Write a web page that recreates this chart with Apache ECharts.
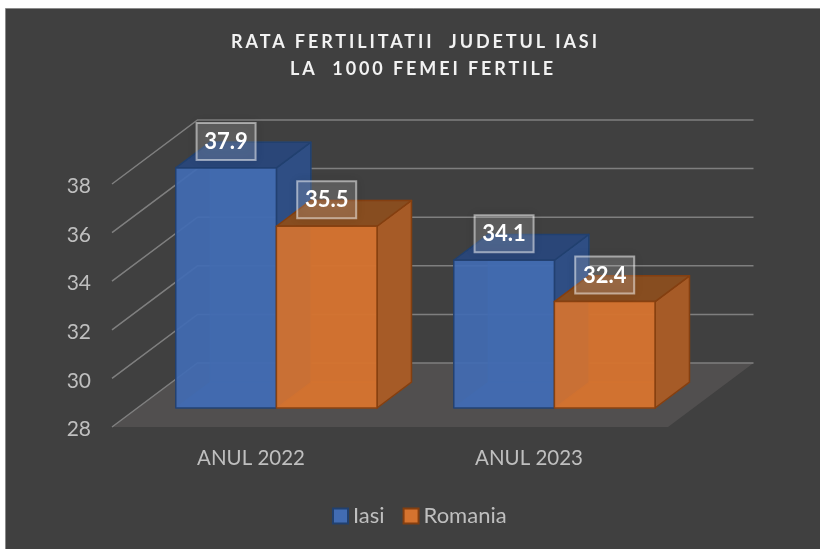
<!DOCTYPE html>
<html>
<head>
<meta charset="utf-8">
<style>html,body{margin:0;padding:0;background:#fff}#main{width:820px;height:549px}</style>
<script src="https://cdn.jsdelivr.net/npm/echarts@6/dist/echarts.min.js"></script>
</head>
<body>
<div id="main"></div>
<script>
var titleLines = ['RATA FERTILITATII  JUDETUL IASI', 'LA  1000 FEMEI FERTILE'];
var categories = ['ANUL 2022', 'ANUL 2023'];
var iasiValues = [37.9, 34.1];
var romaniaValues = [35.5, 32.4];
var gridValues = [28, 30, 32, 34, 36, 38];

// Title letter spacing: canvas text spacing applied only to the title lines
var origFill = CanvasRenderingContext2D.prototype.fillText;
CanvasRenderingContext2D.prototype.fillText = function (t) {
  var on = titleLines.indexOf(t) >= 0;
  this.letterSpacing = on ? '2.9px' : '0px';
  var r = origFill.apply(this, arguments);
  this.letterSpacing = '0px';
  return r;
};

var FONT = 'Lato, "Open Sans", sans-serif';
var DEPTH = [85.5, -64];      // floor depth in pixels
var BAR_NEAR = 0.297, BAR_FAR = 0.70; // bar position along the depth
var BAR_RATIO = 0.362;        // bar width / category band

function poly(points, fill, stroke, lw, opacity) {
  return { type: 'polygon', shape: { points: points },
    style: { fill: fill, stroke: stroke, lineWidth: lw, opacity: opacity == null ? 1 : opacity, lineJoin: 'round' } };
}

function barRenderer(side, pal) {
  return function (params, api) {
    var cat = api.value(0), val = api.value(1);
    var top = api.coord([cat, val]);
    var base = api.coord([cat, 28]);
    var bw = api.size([1, 0])[0] * BAR_RATIO;
    var nx = DEPTH[0] * BAR_NEAR, ny = DEPTH[1] * BAR_NEAR;
    var fx = DEPTH[0] * BAR_FAR, fy = DEPTH[1] * BAR_FAR;
    var x0 = top[0] + nx + (side === 0 ? -bw : 0), x1 = x0 + bw;
    var yt = top[1] + ny + 0.5, yb = base[1] + ny;
    var ox = fx - nx, oy = fy - ny;
    var cx = (x0 + x1) / 2;
    var kids = [
      // hidden faces, seen through the translucent front
      poly([[x0 + ox, yb + oy], [x1 + ox, yb + oy], [x1 + ox, yt + oy], [x0 + ox, yt + oy]], pal.back, pal.inner, 1, 0.55),
      poly([[x0, yb], [x1, yb], [x1 + ox, yb + oy], [x0 + ox, yb + oy]], pal.base, pal.inner, 1, 0.55),
      // visible faces
      poly([[x1, yb], [x1 + ox, yb + oy], [x1 + ox, yt + oy], [x1, yt]], pal.side, pal.edge, 1.5),
      poly([[x0, yt], [x1, yt], [x1 + ox, yt + oy], [x0 + ox, yt + oy]], pal.top, pal.edge, 1.5),
      poly([[x0, yb], [x1, yb], [x1, yt], [x0, yt]], pal.front, pal.edge, 1.5, 0.93),
      { type: 'rect', shape: { x: cx - 29.5, y: yt - 45, width: 59, height: 37 },
        style: { fill: 'rgba(255,255,255,0.16)', stroke: 'rgba(255,255,255,0.5)', lineWidth: 2,
                 shadowBlur: 10, shadowColor: 'rgba(0,0,0,0.2)' }, z2: 20 },
      { type: 'text', x: cx, y: yt - 26, z2: 21,
        style: { text: val.toFixed(1), fill: '#ffffff', font: 'bold 22px ' + FONT, align: 'center', verticalAlign: 'middle' } }
    ];
    return { type: 'group', children: kids };
  };
}

var blue = { front: '#426cb3', edge: '#21406f', top: '#2a4678', side: '#2f4e84', back: '#3b629f', base: '#3f67ab', inner: '#3a619f' };
var orange = { front: '#d5732f', edge: '#843f10', top: '#874d20', side: '#a65b27', back: '#c86c2d', base: '#d06f2e', inner: '#c96c2c' };

var chart = echarts.init(document.getElementById('main'), null, { renderer: 'canvas' });
chart.setOption({
  animation: false,
  backgroundColor: '#ffffff',
  textStyle: { fontFamily: FONT },
  graphic: [{ type: 'rect', z: -10, shape: { x: 5.5, y: 8.5, width: 820, height: 545 },
    style: { fill: '#404040', stroke: '#8a8a8a', lineWidth: 1 } }],
  title: [
    { text: titleLines[0], left: 410.5, top: 28, textAlign: 'center', textStyle: { color: '#f2f2f2', fontSize: 18, fontWeight: 'bold', fontFamily: FONT } },
    { text: titleLines[1], left: 418, top: 55, textAlign: 'center', textStyle: { color: '#f2f2f2', fontSize: 18, fontWeight: 'bold', fontFamily: FONT } }
  ],
  legend: {
    data: ['Iasi', 'Romania'], left: 327, top: 500, itemWidth: 15, itemHeight: 15, itemGap: 18,
    icon: 'rect', textStyle: { color: '#bfbfbf', fontSize: 22, fontFamily: FONT }
  },
  grid: { left: 112, right: 152, top: 184, bottom: 122 },
  xAxis: { type: 'category', data: categories, axisLine: { show: false }, axisTick: { show: false },
    axisLabel: { color: '#bfbfbf', fontSize: 20.5, fontFamily: FONT, margin: 21 } },
  yAxis: { type: 'value', min: 28, max: 38, interval: 2, axisLine: { show: false }, axisTick: { show: false },
    splitLine: { show: false }, axisLabel: { formatter: '{v|{value}}', margin: 21,
      rich: { v: { color: '#bfbfbf', fontSize: 21, fontFamily: FONT, padding: [5, 0, 0, 0] } } } },
  series: [
    { type: 'custom', name: 'floor', z: 1, silent: true, data: [[0, gridValues[0]]],
      encode: { x: 0, y: 1 },
      renderItem: function (p, api) {
        var cs = p.coordSys, y = api.coord([0, api.value(1)])[1];
        return poly([[cs.x, y], [cs.x + cs.width, y], [cs.x + cs.width + DEPTH[0], y + DEPTH[1]], [cs.x + DEPTH[0], y + DEPTH[1]]], '#514f4f');
      } },
    { type: 'custom', name: 'gridlines', z: 2, silent: true, data: gridValues.map(function (v) { return [0, v]; }),
      encode: { x: 0, y: 1 },
      renderItem: function (p, api) {
        var cs = p.coordSys, y = api.coord([0, api.value(1)])[1];
        return { type: 'polyline', shape: { points: [[cs.x, y], [cs.x + DEPTH[0], y + DEPTH[1]], [cs.x + cs.width + DEPTH[0], y + DEPTH[1]]] },
          style: { fill: null, stroke: '#7f7f7f', lineWidth: 1.5 } };
      } },
    { type: 'custom', name: 'Iasi', z: 3, data: iasiValues.map(function (v, i) { return [i, v]; }),
      encode: { x: 0, y: 1 }, renderItem: barRenderer(0, blue),
      itemStyle: { color: blue.front, borderColor: blue.edge, borderWidth: 2 } },
    { type: 'custom', name: 'Romania', z: 4, data: romaniaValues.map(function (v, i) { return [i, v]; }),
      encode: { x: 0, y: 1 }, renderItem: barRenderer(1, orange),
      itemStyle: { color: orange.front, borderColor: orange.edge, borderWidth: 2 } }
  ]
});
</script>
</body>
</html>
